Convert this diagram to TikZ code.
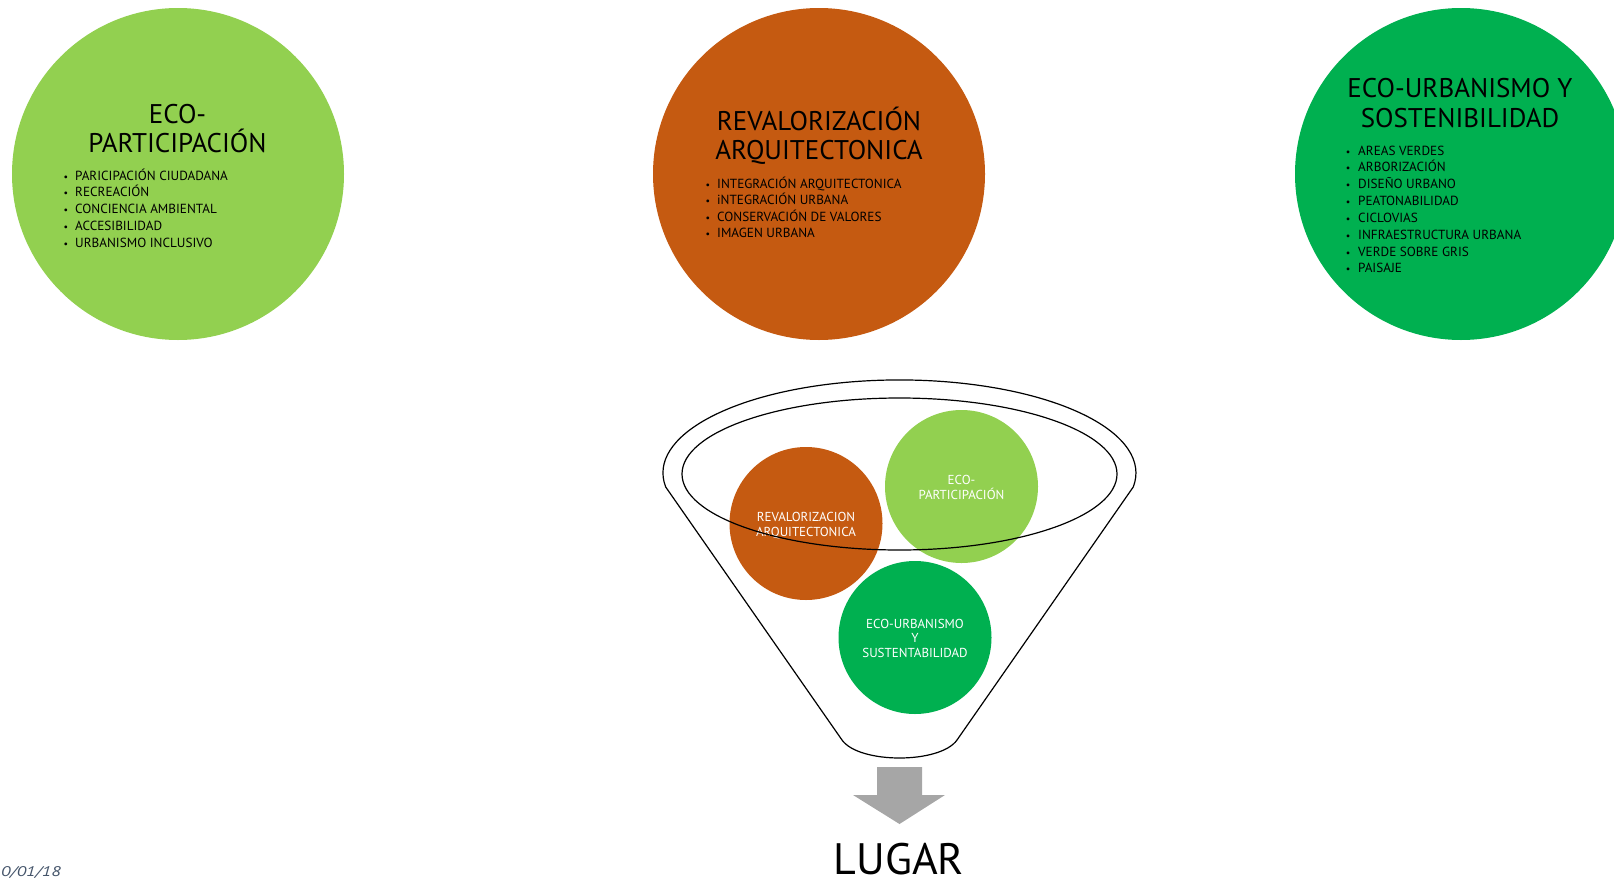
\documentclass[tikz,border=0pt]{standalone}
\usepackage{fontspec}
\setmainfont{PT Sans}
\definecolor{lgreen}{HTML}{92D050}
\definecolor{rust}{HTML}{C55A11}
\definecolor{dgreen}{HTML}{00B050}
\definecolor{arrowgray}{HTML}{A6A6A6}
\definecolor{dategray}{HTML}{44546A}
\begin{document}
\begin{tikzpicture}[x=1pt,y=-1pt,
  bigcirc/.style={circle, minimum size=332pt, inner sep=0pt, draw=none},
  smallcirc/.style={circle, minimum size=153pt, inner sep=0pt, draw=none},
  ttl/.style={anchor=base, inner sep=0pt, font=\fontsize{27}{29}\selectfont},
  bul/.style={anchor=base west, inner sep=0pt, font=\fontsize{13.2}{16}\selectfont},
  dot/.style={anchor=base, inner sep=0pt, font=\fontsize{10}{12}\selectfont},
  lbl/.style={anchor=base, inner sep=0pt, text=white, font=\fontsize{13}{15}\selectfont},
  funnel/.style={draw=black, line width=1.2pt},
]
\useasboundingbox (0,0) rectangle (1614,878);
\clip (0,0) rectangle (1614,878);

% big circles
\node[bigcirc, fill=lgreen] (c1) at (178,174) {};
\node[bigcirc, fill=rust]   (c2) at (819,174) {};
\node[bigcirc, fill=dgreen] (c3) at (1461,174) {};

% titles
\node[ttl] (t1a) at (177.5,123) {ECO-};
\node[ttl] (t1b) at (177.5,152) {PARTICIPACIÓN};
\node[ttl] (t2a) at (819,130) {REVALORIZACIÓN};
\node[ttl] (t2b) at (819,159) {ARQUITECTONICA};
\node[ttl] (t3a) at (1460,97) {ECO-URBANISMO Y};
\node[ttl] (t3b) at (1460,127) {SOSTENIBILIDAD};

% bullets circle 1
\foreach \t [count=\i] in {PARICIPACIÓN CIUDADANA, RECREACIÓN, CONCIENCIA AMBIENTAL, ACCESIBILIDAD, URBANISMO INCLUSIVO}{
  \node[dot] (d1-\i) at (66,{180+16.8*(\i-1)}) {•};
  \node[bul] (b1-\i) at (75,{180+16.8*(\i-1)}) {\t};
}
% bullets circle 2
\foreach \t [count=\i] in {INTEGRACIÓN ARQUITECTONICA, iNTEGRACIÓN URBANA, CONSERVACIÓN DE VALORES, IMAGEN URBANA}{
  \node[dot] (d2-\i) at (708,{188+16.5*(\i-1)}) {•};
  \node[bul] (b2-\i) at (717,{188+16.5*(\i-1)}) {\t};
}
% bullets circle 3
\foreach \t [count=\i] in {AREAS VERDES, ARBORIZACIÓN, DISEÑO URBANO, PEATONABILIDAD, CICLOVIAS, INFRAESTRUCTURA URBANA, VERDE SOBRE GRIS, PAISAJE}{
  \node[dot] (d3-\i) at (1348,{155+16.85*(\i-1)}) {•};
  \node[bul] (b3-\i) at (1358,{155+16.85*(\i-1)}) {\t};
}

% funnel circles
\node[smallcirc, fill=rust]   (s1) at (806,523.5) {};
\node[smallcirc, fill=lgreen] (s2) at (961.5,486.5) {};
\node[smallcirc, fill=dgreen] (s3) at (915,637.5) {};
\node[lbl] (l1a) at (806,521) {REVALORIZACION};
\node[lbl] (l1b) at (806,536) {ARQUITECTONICA};
\node[lbl] (l2a) at (961.5,484) {ECO-};
\node[lbl] (l2b) at (961.5,499) {PARTICIPACIÓN};
\node[lbl] (l3a) at (915,628) {ECO-URBANISMO};
\node[lbl] (l3b) at (915,642) {Y};
\node[lbl] (l3c) at (915,657) {SUSTENTABILIDAD};

% funnel outline
\draw[funnel] (665.7,487) arc[start angle=171.3, end angle=368.7, x radius=236.5, y radius=93]
  -- (957,740) .. controls (940,764) and (859,764) .. (842,740) -- cycle;
\draw[funnel] (899.5,474) ellipse[x radius=217.5, y radius=76];

% block arrow
\fill[arrowgray] (877,767) -- (922,767) -- (922,795) -- (945,795) -- (899.5,824)
  -- (853,795) -- (877,795) -- cycle;

\node[anchor=base, inner sep=0pt, font=\fontsize{44}{46}\selectfont] (lugar) at (899,874) {LUGAR};
\node[anchor=base west, inner sep=0pt, text=dategray, font=\itshape\fontsize{14}{16}\selectfont] (date) at (1,876) {\scalebox{1.3}[1]{0/01/18}};
\end{tikzpicture}
\end{document}
